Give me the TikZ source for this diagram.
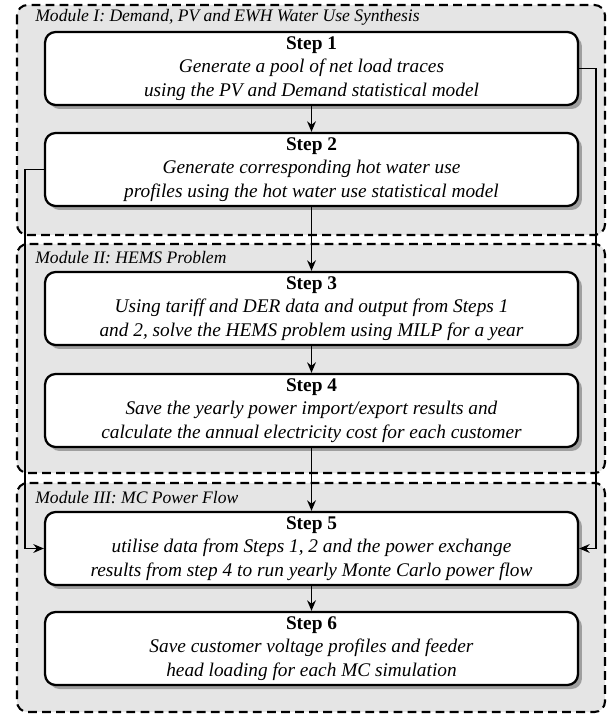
\documentclass[tikz,border=0pt]{standalone}
\usepackage{fontspec}
\setmainfont{Liberation Serif}
\usetikzlibrary{arrows.meta,shadows}

\tikzset{
  module/.style={draw,line width=1.2pt,dash pattern=on 5pt off 3pt,rounded corners=6pt,fill=gray!20},
  modlabel/.style={anchor=west,inner sep=0pt,font=\fontsize{10}{12}\selectfont\itshape},
  stepbox/.style={draw,line width=1.3pt,rounded corners=6pt,fill=white,align=center,
    minimum width=10.66cm,minimum height=1.46cm,inner sep=2pt,
    font=\fontsize{11}{13.3}\selectfont,
    drop shadow={shadow xshift=0.08cm,shadow yshift=-0.08cm,fill=gray!75,opacity=1}},
  link/.style={line width=0.9pt,-{Stealth[length=6pt,width=5pt]}}
}

\begin{document}
\begin{tikzpicture}[x=0.02cm,y=-0.02cm]
\useasboundingbox (0,0) rectangle (613,715);
% modules
\draw [module] (17,5) rectangle (605,235);
\draw [module] (17,244) rectangle (605,473);
\draw [module] (17,483) rectangle (605,712);
\node [modlabel] (m1) at (35,17) {Module I: Demand, PV and EWH Water Use Synthesis};
\node [modlabel] (m2) at (35,258) {Module II: HEMS Problem};
\node [modlabel] (m3) at (35,498) {Module III: MC Power Flow};
% steps
\node [stepbox] (s1) at (311.5,68.5) {\textbf{Step 1}\\ \textit{Generate a pool of net load traces}\\ \textit{using the PV and Demand statistical model}};
\node [stepbox] (s2) at (311.5,169.5) {\textbf{Step 2}\\ \textit{Generate corresponding hot water use}\\ \textit{profiles using the hot water use statistical model}};
\node [stepbox] (s3) at (311.5,308.5) {\textbf{Step 3}\\ \textit{Using tariff and DER data and output from Steps 1}\\ \textit{and 2, solve the HEMS problem using MILP for a year}};
\node [stepbox] (s4) at (311.5,410.5) {\textbf{Step 4}\\ \textit{Save the yearly power import/export results and}\\ \textit{calculate the annual electricity cost for each customer}};
\node [stepbox] (s5) at (311.5,548.5) {\textbf{Step 5}\\ \textit{utilise data from Steps 1, 2 and the power exchange}\\ \textit{results from step 4 to run yearly Monte Carlo power flow}};
\node [stepbox] (s6) at (311.5,648.5) {\textbf{Step 6}\\ \textit{Save customer voltage profiles and feeder}\\ \textit{head loading for each MC simulation}};
% arrows
\draw [link] (s1) -- (s2);
\draw [link] (s2) -- (s3);
\draw [link] (s3) -- (s4);
\draw [link] (s4) -- (s5);
\draw [link] (s5) -- (s6);
\draw [link] (s1.east) -- ++(17,0) |- (s5.east);
\draw [link] (s2.west) -- ++(-19,0) |- (s5.west);
\end{tikzpicture}
\end{document}
